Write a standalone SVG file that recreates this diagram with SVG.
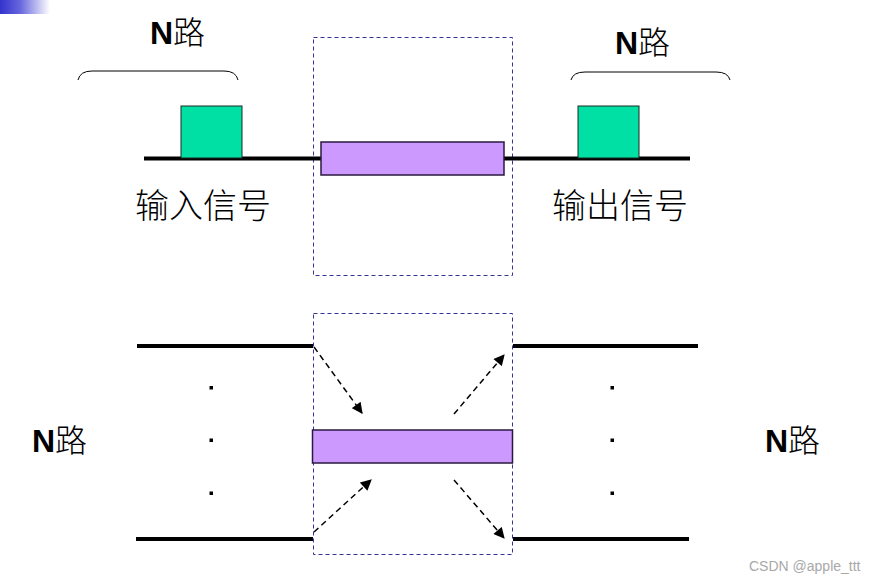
<svg xmlns="http://www.w3.org/2000/svg" width="877" height="583" viewBox="0 0 877 583">
<defs>
<linearGradient id="corner" x1="0" y1="0" x2="1" y2="0">
<stop offset="0" stop-color="#3333cc"/>
<stop offset="0.4" stop-color="#6666dd"/>
<stop offset="1" stop-color="#ffffff"/>
</linearGradient>
<marker id="arr" viewBox="0 0 10 10" refX="9" refY="5" markerWidth="12" markerHeight="11" markerUnits="userSpaceOnUse" orient="auto">
<path d="M0,0 L10,5 L0,10 z" fill="#000"/>
</marker>
<style>
.wire{stroke:#000;stroke-width:4;fill:none}
.dash{stroke:#333399;stroke-width:1;stroke-dasharray:4 3;fill:none}
.purple{fill:#cc99ff;stroke:#2a1a40;stroke-width:1.5}
.green{fill:#00e0a4;stroke:#1a2a20;stroke-width:1}
.brace{stroke:#000;stroke-width:1;fill:none}
.lbl{font-family:"Liberation Sans","Noto Sans CJK SC",sans-serif;font-size:32px;fill:#000}
.han{font-family:"Noto Sans CJK SC",sans-serif;font-weight:300}
.cjk{font-family:"Noto Sans CJK SC","Liberation Sans",sans-serif;font-size:34px;font-weight:300;fill:#000}
.arrow{stroke:#000;stroke-width:1.5;stroke-dasharray:6 4;fill:none}
.dot{fill:#000}
.wm{font-family:"Liberation Sans",sans-serif;font-size:14px;fill:#a8a8a8}
</style>
</defs>
<rect width="877" height="583" fill="#fff"/>
<rect x="0" y="0" width="50" height="14" fill="url(#corner)"/>

<g id="top-panel">
<g id="top-box"><rect class="dash" x="313.5" y="37.5" width="199" height="238"/></g>
<g id="top-wire"><line class="wire" x1="144" y1="158.5" x2="690" y2="158.5"/></g>
<g id="top-filter"><rect class="purple" x="321" y="142" width="183" height="33"/></g>
<g id="in-pulse"><rect class="green" x="181" y="106" width="61" height="52"/></g>
<g id="out-pulse"><rect class="green" x="578" y="106" width="61" height="52"/></g>
<g id="brace-left"><path class="brace" d="M78,80 Q80,71 92,71 L224,71 Q236,71 238,80"/></g>
<g id="brace-right"><path class="brace" d="M571,80 Q573,72 585,72 L716,72 Q728,72 730,80"/></g>
<g id="label-n-top-left"><text class="lbl" x="150" y="44"><tspan font-weight="bold">N</tspan><tspan class="han">路</tspan></text></g>
<g id="label-n-top-right"><text class="lbl" x="615" y="54"><tspan font-weight="bold">N</tspan><tspan class="han">路</tspan></text></g>
<g id="label-in"><text class="cjk" x="135" y="218">输入信号</text></g>
<g id="label-out"><text class="cjk" x="552" y="218">输出信号</text></g>
</g>

<g id="bottom-panel">
<g id="bottom-box"><rect class="dash" x="313.5" y="313.5" width="199" height="241"/></g>
<g id="bottom-filter"><rect class="purple" x="312.5" y="430" width="200" height="33"/></g>
<g id="in-lines">
<line class="wire" x1="137" y1="346" x2="313" y2="346"/>
<line class="wire" x1="136" y1="539" x2="313" y2="539"/>
</g>
<g id="out-lines">
<line class="wire" x1="513" y1="346" x2="698" y2="346"/>
<line class="wire" x1="513" y1="539" x2="689" y2="539"/>
</g>
<g id="dots-left">
<rect class="dot" x="209.5" y="386" width="3.5" height="3.5"/>
<rect class="dot" x="209.5" y="438.5" width="3.5" height="3.5"/>
<rect class="dot" x="209.5" y="491.5" width="3.5" height="3.5"/>
</g>
<g id="dots-right">
<rect class="dot" x="610.5" y="386" width="3.5" height="3.5"/>
<rect class="dot" x="610.5" y="438.5" width="3.5" height="3.5"/>
<rect class="dot" x="610.5" y="491.5" width="3.5" height="3.5"/>
</g>
<g id="label-n-bottom-left"><text class="lbl" x="32" y="452"><tspan font-weight="bold">N</tspan><tspan class="han">路</tspan></text></g>
<g id="label-n-bottom-right"><text class="lbl" x="765" y="452"><tspan font-weight="bold">N</tspan><tspan class="han">路</tspan></text></g>
</g>

<g id="connectors">
<line class="arrow" x1="314" y1="347" x2="362" y2="413" marker-end="url(#arr)"/>
<line class="arrow" x1="454" y1="414" x2="504" y2="355" marker-end="url(#arr)"/>
<line class="arrow" x1="314" y1="532" x2="371" y2="480" marker-end="url(#arr)"/>
<line class="arrow" x1="454" y1="480" x2="504" y2="538" marker-end="url(#arr)"/>
</g>

<text class="wm" x="749" y="571">CSDN @apple_ttt</text>
</svg>
